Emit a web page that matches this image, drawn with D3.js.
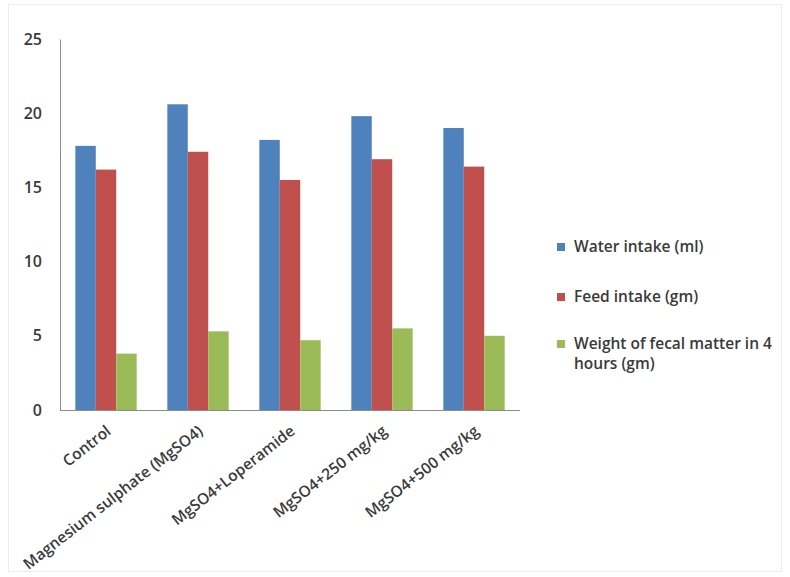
<!DOCTYPE html>
<html>
<head>
<meta charset="utf-8">
<script src="https://cdn.jsdelivr.net/npm/d3@7"></script>
<style>
  html, body { margin: 0; padding: 0; background: #fff; }
  svg { display: block; }
  text { font-family: "Open Sans", "DejaVu Sans", sans-serif; fill: #3a3a3a; font-weight: 600; }
</style>
</head>
<body>
<svg id="chart" width="790" height="577"></svg>
<script>
// Treatment groups along the x axis
const categories = [
  "Control",
  "Magnesium sulphate (MgSO4)",
  "MgSO4+Loperamide",
  "MgSO4+250 mg/kg",
  "MgSO4+500 mg/kg"
];

// Measured values per group
const waterIntake = [17.8, 20.6, 18.2, 19.8, 19.0];
const feedIntake  = [16.2, 17.4, 15.5, 16.9, 16.4];
const fecalWeight = [3.8, 5.3, 4.7, 5.5, 5.0];

const seriesNames = [
  "Water intake (ml)",
  "Feed intake (gm)",
  "Weight of fecal matter in 4 hours (gm)"
];
const seriesColors = ["#4F81BD", "#C0504D", "#9BBB59"];
const yTicks = [0, 5, 10, 15, 20, 25];

const series = [waterIntake, feedIntake, fecalWeight];

const svg = d3.select("#chart");
const W = 790, H = 577;

// faint outer frame
svg.append("rect")
  .attr("x", 8.5).attr("y", 4.5)
  .attr("width", W - 17).attr("height", H - 10)
  .attr("fill", "none").attr("stroke", "#ececec");

const plot = { left: 60, right: 520, top: 39, bottom: 410 };

const x = d3.scaleBand()
  .domain(categories)
  .range([plot.left, plot.right])
  .paddingInner(1.5 / 4.5)
  .paddingOuter(0.75 / 4.5);

const xs = d3.scaleBand()
  .domain(d3.range(series.length))
  .range([0, x.bandwidth()]);

const y = d3.scaleLinear().domain([0, 25]).range([plot.bottom, plot.top]);

// bars
const groups = svg.append("g").selectAll("g")
  .data(categories)
  .join("g")
  .attr("transform", d => `translate(${x(d)},0)`);

groups.selectAll("rect")
  .data((d, i) => series.map((s, k) => ({ k, v: s[i] })))
  .join("rect")
  .attr("x", d => xs(d.k))
  .attr("width", xs.bandwidth())
  .attr("y", d => y(d.v))
  .attr("height", d => y(0) - y(d.v))
  .attr("fill", d => seriesColors[d.k]);

// y axis
const yAxis = svg.append("g")
  .attr("transform", `translate(${plot.left},0)`)
  .call(d3.axisLeft(y).tickValues(yTicks).tickSize(0).tickPadding(18));
yAxis.select(".domain").attr("stroke", "#8c8c8c");
yAxis.selectAll("text").style("font-size", "16px").attr("fill", "#3a3a3a");

// x axis
const xAxis = svg.append("g")
  .attr("transform", `translate(0,${plot.bottom})`)
  .call(d3.axisBottom(x).tickSize(0).tickPadding(0));
xAxis.select(".domain").attr("stroke", "#8c8c8c").attr("d", `M${plot.left},0.5H${plot.right}`);
xAxis.selectAll("text")
  .style("font-size", "15.5px")
  .attr("fill", "#3a3a3a")
  .attr("text-anchor", "end")
  .attr("x", 0).attr("y", 0).attr("dy", null)
  .attr("transform", "translate(6,23) rotate(-38)");

// legend: one text element per line
const legend = svg.append("g").attr("transform", "translate(557,0)");
const legendRows = [
  { lines: [seriesNames[0]], y: 247 },
  { lines: [seriesNames[1]], y: 297 },
  { lines: ["Weight of fecal matter in 4", "hours (gm)"], y: 344 }
];
legendRows.forEach((row, i) => {
  legend.append("rect")
    .attr("x", 0).attr("y", row.y - 4)
    .attr("width", 8).attr("height", 8)
    .attr("fill", seriesColors[i]);
  row.lines.forEach((ln, j) => {
    legend.append("text")
      .attr("x", 17).attr("y", row.y + j * 20)
      .attr("dy", "0.35em")
      .style("font-size", "15.5px")
      .text(ln);
  });
});
</script>
</body>
</html>
